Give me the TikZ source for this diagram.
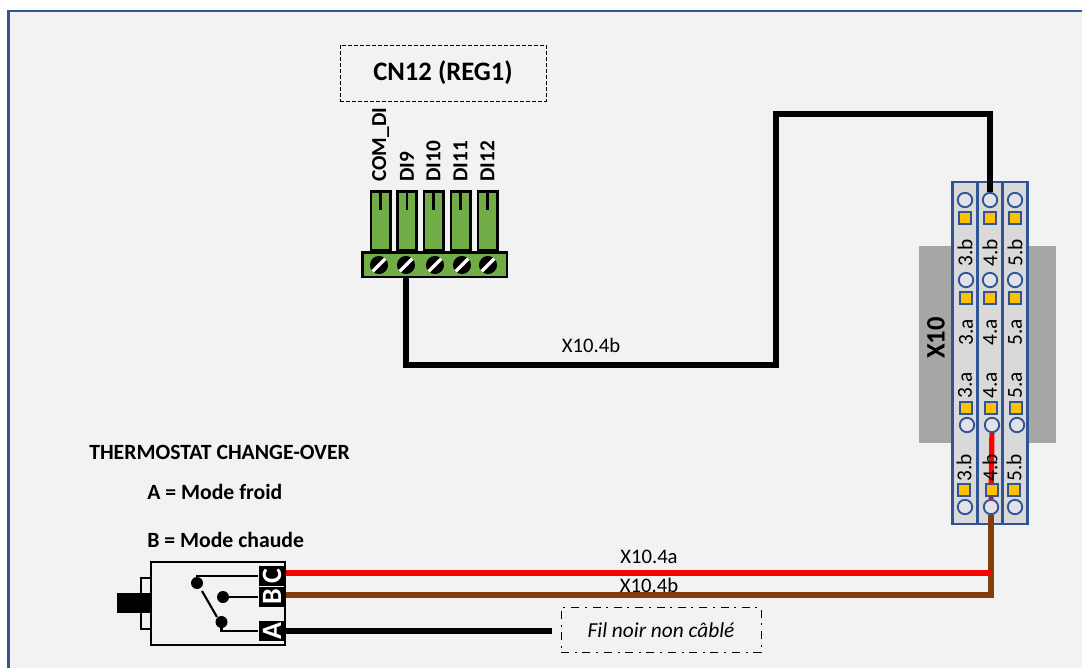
\documentclass[tikz,border=0pt]{standalone}
\usepackage{fontspec}
\setmainfont{Carlito}
\definecolor{pageback}{HTML}{F2F2F2}
\definecolor{frameblue}{HTML}{2F5597}
\definecolor{connectgreen}{HTML}{70AD47}
\definecolor{railgrey}{HTML}{A6A6A6}
\definecolor{stripgrey}{HTML}{D9D9D9}
\definecolor{holegrey}{HTML}{E2E2E8}
\definecolor{pinyellow}{HTML}{FFC000}
\definecolor{wirebrown}{HTML}{843C0C}
\pgfdeclarelayer{back}
\pgfdeclarelayer{wirelayer}
\pgfsetlayers{back,wirelayer,main}
\tikzset{
    wire/.style={line width=3.9pt, line join=miter},
    pinbody/.style={draw=black, line width=2pt, fill=connectgreen, inner sep=0pt, minimum width=14.5pt, minimum height=44pt},
    screwhead/.style={circle, draw=black, line width=1.8pt, fill=black, inner sep=0pt, minimum size=11.7pt},
    strip/.style={draw=frameblue, line width=2pt, fill=stripgrey, inner sep=0pt, minimum width=18.75pt, minimum height=256.5pt},
    hole/.style={circle, draw=frameblue, line width=1.4pt, fill=holegrey, inner sep=0pt, minimum size=10.8pt},
    pin/.style={draw=frameblue, line width=1.2pt, fill=pinyellow, inner sep=0pt, minimum size=9.3pt},
    striplabel/.style={rotate=90, font=\fontsize{16}{16}\selectfont, inner sep=0pt},
    pinlabel/.style={rotate=90, anchor=west, font=\fontsize{16}{16}\selectfont\bfseries, inner sep=0pt},
    notelabel/.style={font=\fontsize{16.3}{16.3}\selectfont\bfseries, anchor=west, inner sep=0pt},
    wirelabel/.style={font=\fontsize{15.5}{15.5}\selectfont, inner sep=0pt},
    swterm/.style={fill=black, text=white, font=\fontsize{21}{21}\selectfont\bfseries, rotate=90, inner sep=0pt, minimum width=15pt, minimum height=20pt},
    swdot/.style={circle, fill=black, inner sep=0pt, minimum size=9pt},
}
\begin{document}
\begin{tikzpicture}[x=0.75pt,y=-0.75pt]
    \useasboundingbox (0,0) rectangle (1082,668);
    \begin{pgfonlayer}{back}
        \fill[white] (0,0) rectangle (1082,668);
        \fill[pageback] (8,11) rectangle (1082,668);
        \draw[frameblue, line width=2pt] (8.5,668) -- (8.5,11) -- (1082,11);
    \end{pgfonlayer}

    % title box
    \node[draw, dash pattern=on 3pt off 1.5pt, line width=0.75pt, minimum width=154.5pt, minimum height=42pt, font=\fontsize{20}{20}\selectfont\bfseries] (title) at (443,73) {CN12 (REG1)};

    % connector
    \foreach \i/\x/\txt in {1/380.5/COM\_DI,2/407/DI9,3/433.5/DI10,4/460.5/DI11,5/487.5/DI12}{
        \node[pinbody] (body\i) at (\x,220.5) {};
        \draw[line width=1.6pt] (body\i.north) -- ++(0,20);
        \node[pinlabel] (lab\i) at (\x,182) {\txt};
    }
    \node[draw=black, line width=2pt, fill=connectgreen, minimum width=108.5pt, minimum height=18.5pt, inner sep=0pt] (block) at (434.5,264.5) {};
    \foreach \i/\x in {1/379,2/406,3/435,4/462,5/488}{
        \node[screwhead] (screw\i) at (\x,265) {};
        \draw[line width=2.6pt, white] (screw\i.south west) -- (screw\i.north east);
    }

    % terminal block X10
    \begin{pgfonlayer}{back}
        \node[fill=railgrey, minimum width=102.75pt, minimum height=147.75pt, inner sep=0pt] (rail) at (987.5,344.5) {};
        \node[strip] (strip3) at (965,353) {};
        \node[strip] (strip4) at (990,353) {};
        \node[strip] (strip5) at (1015,353) {};
    \end{pgfonlayer}
    \node[rotate=90, font=\fontsize{20}{20}\selectfont\bfseries, inner sep=0pt] (x10) at (936,338) {X10};

    \foreach \col/\ha/\hb/\pc/\hc/\pd/\hd in {3/965/966/966/967/964/965,4/990/990/991/992/992/991,5/1015/1015/1016/1017/1014/1015}{
        \node[hole] (h\col a) at (\ha,200) {};
        \node[pin] (p\col a) at (\ha,218) {};
        \node[striplabel] (t\col a) at (\ha,253) {\col.b};
        \node[hole] (h\col b) at (\hb,280) {};
        \node[pin] (p\col b) at (\hb,298) {};
        \node[striplabel] (t\col b) at (\hb,332) {\col.a};
        \node[striplabel] (t\col c) at (\pc-1,385) {\col.a};
        \node[pin] (p\col c) at (\pc,408) {};
        \node[hole] (h\col c) at (\hc,425) {};
        \node[striplabel] (t\col d) at (\hd-1,468) {\col.b};
        \node[pin] (p\col d) at (\pd,490) {};
        \node[hole] (h\col d) at (\hd,507) {};
    }

    % switch
    \draw[line width=1.6pt] (141,578) rectangle (151,629);
    \fill (117,593) rectangle (151,613);
    \draw[line width=2pt] (151,562) rectangle (285,645);
    \node[swterm] (termC) at (272,576) {C};
    \node[swterm] (termB) at (272,597) {B};
    \node[swterm] (termA) at (272,631) {A};
    \node[swdot] (dotC) at (197,583) {};
    \node[swdot] (dotB) at (223,597) {};
    \node[swdot] (dotA) at (221.5,622) {};
    \draw[line width=1.6pt] (dotC.center) |- (termC.north);
    \draw[line width=1.6pt] (dotB) -- (termB);
    \draw[line width=1.6pt] (dotA.center) |- (termA.north);
    \draw[line width=1.6pt] (202,591) -- (217,617);

    % wires
    \coordinate (outC) at (285,573);
    \coordinate (outB) at (285,595);
    \coordinate (outA) at (285,631);
    \node[wirelabel] (lab4a) at (649,557) {X10.4a};
    \node[wirelabel] (lab4b) at (649,585) {X10.4b};
    \node[wirelabel] (lab4c) at (591,345) {X10.4b};
    \begin{pgfonlayer}{wirelayer}
        \draw[wire, black] (screw2.south) -- (406,365) -- (776,365) -- (776,114) -- (990,114) -- (h4a.north);
        \draw[wire, wirebrown] (outB) -- (991,595) -- (h4d.south);
        \draw[wire, red] (outC) -- (991,573);
        \draw[wire, red] (h4c) -- (h4d);
        \draw[wire, black] (outA) -- (552,631);
    \end{pgfonlayer}

    % notes
    \node[notelabel] (note0) at (89,452) {THERMOSTAT CHANGE-OVER};
    \node[notelabel] (note1) at (147,492) {A = Mode froid};
    \node[notelabel] (note2) at (147,540) {B = Mode chaude};
    \node[draw, dash pattern=on 6pt off 4.5pt on 1.5pt off 4pt, line width=0.75pt, minimum width=150pt, minimum height=33.75pt, font=\fontsize{16}{16}\selectfont\itshape] (unwired) at (661,630) {Fil noir non câblé};
\end{tikzpicture}
\end{document}
